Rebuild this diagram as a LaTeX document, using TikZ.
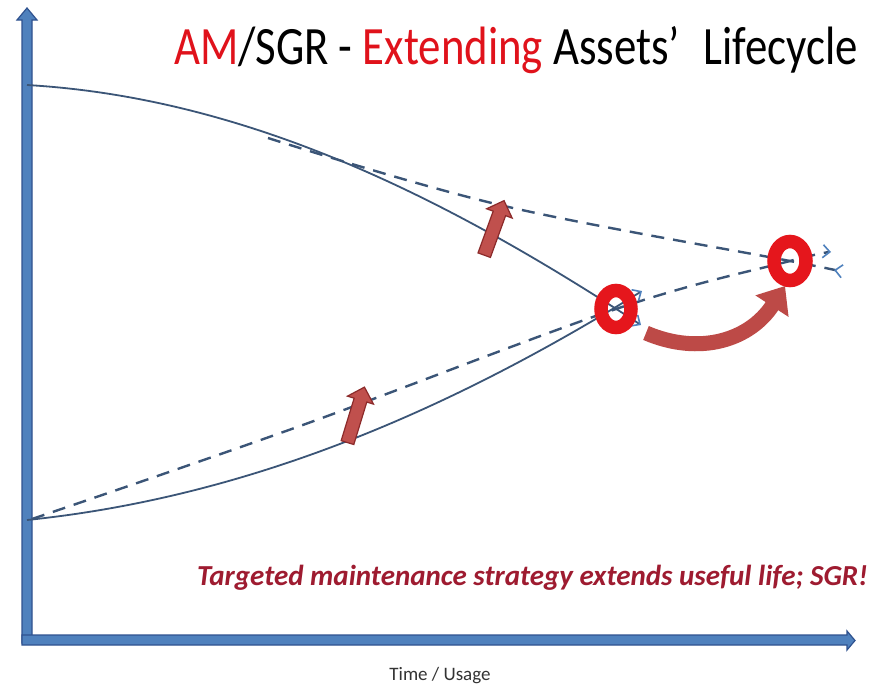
\documentclass[tikz,border=0pt]{standalone}
\usepackage{fontspec}
\setmainfont{Carlito}
\usetikzlibrary{arrows.meta,shapes.arrows}
\definecolor{axisfill}{HTML}{4F81BD}
\definecolor{axisline}{HTML}{2F528F}
\definecolor{curve}{HTML}{3B5577}
\definecolor{tipblue}{HTML}{4F81BD}
\definecolor{ring}{HTML}{E5161C}
\definecolor{bumpfill}{HTML}{C0504D}
\definecolor{bumpline}{HTML}{8C2A2A}
\definecolor{extendred}{HTML}{BD4A47}
\definecolor{titlered}{HTML}{E0121B}
\definecolor{caption}{HTML}{9E1B30}
\tikzset{
  axis/.style={fill=axisfill, draw=axisline, line width=1.2pt, line join=miter},
  life/.style={draw=curve, line width=1.8pt},
  projected/.style={draw=curve, line width=2.4pt, dash pattern=on 13pt off 9pt},
  opentip/.style={-{Straight Barb[length=7pt,width=13pt,line width=1.6pt,color=tipblue]}},
  milestone/.style={draw=ring, line width=13.5pt},
  boost/.style={single arrow, fill=bumpfill, draw=bumpline, line width=1.2pt,
    minimum height=58pt, inner xsep=0pt, inner ysep=6pt, single arrow head extend=7pt,
    single arrow head indent=0pt},
}
\begin{document}
\begin{tikzpicture}[x=1pt,y=-1pt]
\useasboundingbox (0,0) rectangle (885,686);
\fill[white] (0,0) rectangle (885,686);

% axes as block arrows
\draw[axis] (22,643) -- (22,20) -- (17,20) -- (27,8) -- (37,20) -- (32,20) -- (32,643) -- cycle;
\draw[axis] (22,635) -- (847,635) -- (847,631) -- (855,640.5) -- (847,650) -- (847,645) -- (22,645) -- cycle;

% named points of the lifecycle curves
\coordinate (hiStart) at (27,85);
\coordinate (loStart) at (27,520);
\coordinate (meet) at (616,309);
\coordinate (meetFar) at (790,261);
\coordinate (hiEnd) at (641,325);
\coordinate (loEnd) at (642,291);

% projected (dashed) curves
\draw[projected, opentip] plot[smooth, tension=0.6] coordinates {(268,138) (500,205) (meetFar) (834,270)};
\draw[projected, opentip] plot[smooth, tension=0.6] coordinates {(32,519) (300,426) (meet) (meetFar) (831,252)};

% actual (solid) curves
\draw[life, opentip] (hiStart) .. controls (250,98) and (450,200) .. (hiEnd);
\draw[life, opentip] (loStart) .. controls (250,497) and (450,410) .. (loEnd);

% maintenance boosts
\node[boost, rotate=70] (boostHi) at (493,231) {};
\node[boost, rotate=73] (boostLo) at (355,418) {};

% milestones
\draw[milestone] (meet) ellipse [x radius=15pt, y radius=18.5pt];
\draw[milestone] (meetFar) ellipse [x radius=16pt, y radius=19.5pt];

% life extension arrow
\draw[extendred, line width=15pt, -{Triangle[length=24pt,width=38pt]}]
  (646,333) .. controls (700,356) and (750,340) .. (785,286);

% texts
\node[anchor=base east, inner sep=0pt] (title) at (858,64)
  {\scalebox{0.83}[1]{\fontsize{54}{60}\selectfont\textcolor{titlered}{AM}/SGR - \textcolor{titlered}{Extending} Assets’\hspace{0.3em} Lifecycle}};
\node[anchor=base east, inner sep=0pt, text=caption] (note) at (868,585)
  {\fontsize{29}{32}\selectfont\bfseries\itshape Targeted maintenance strategy extends useful life; SGR!};
\node[anchor=base, inner sep=0pt, text=black!80] (xlabel) at (440,680)
  {\fontsize{19}{22}\selectfont Time / Usage};
\end{tikzpicture}
\end{document}
